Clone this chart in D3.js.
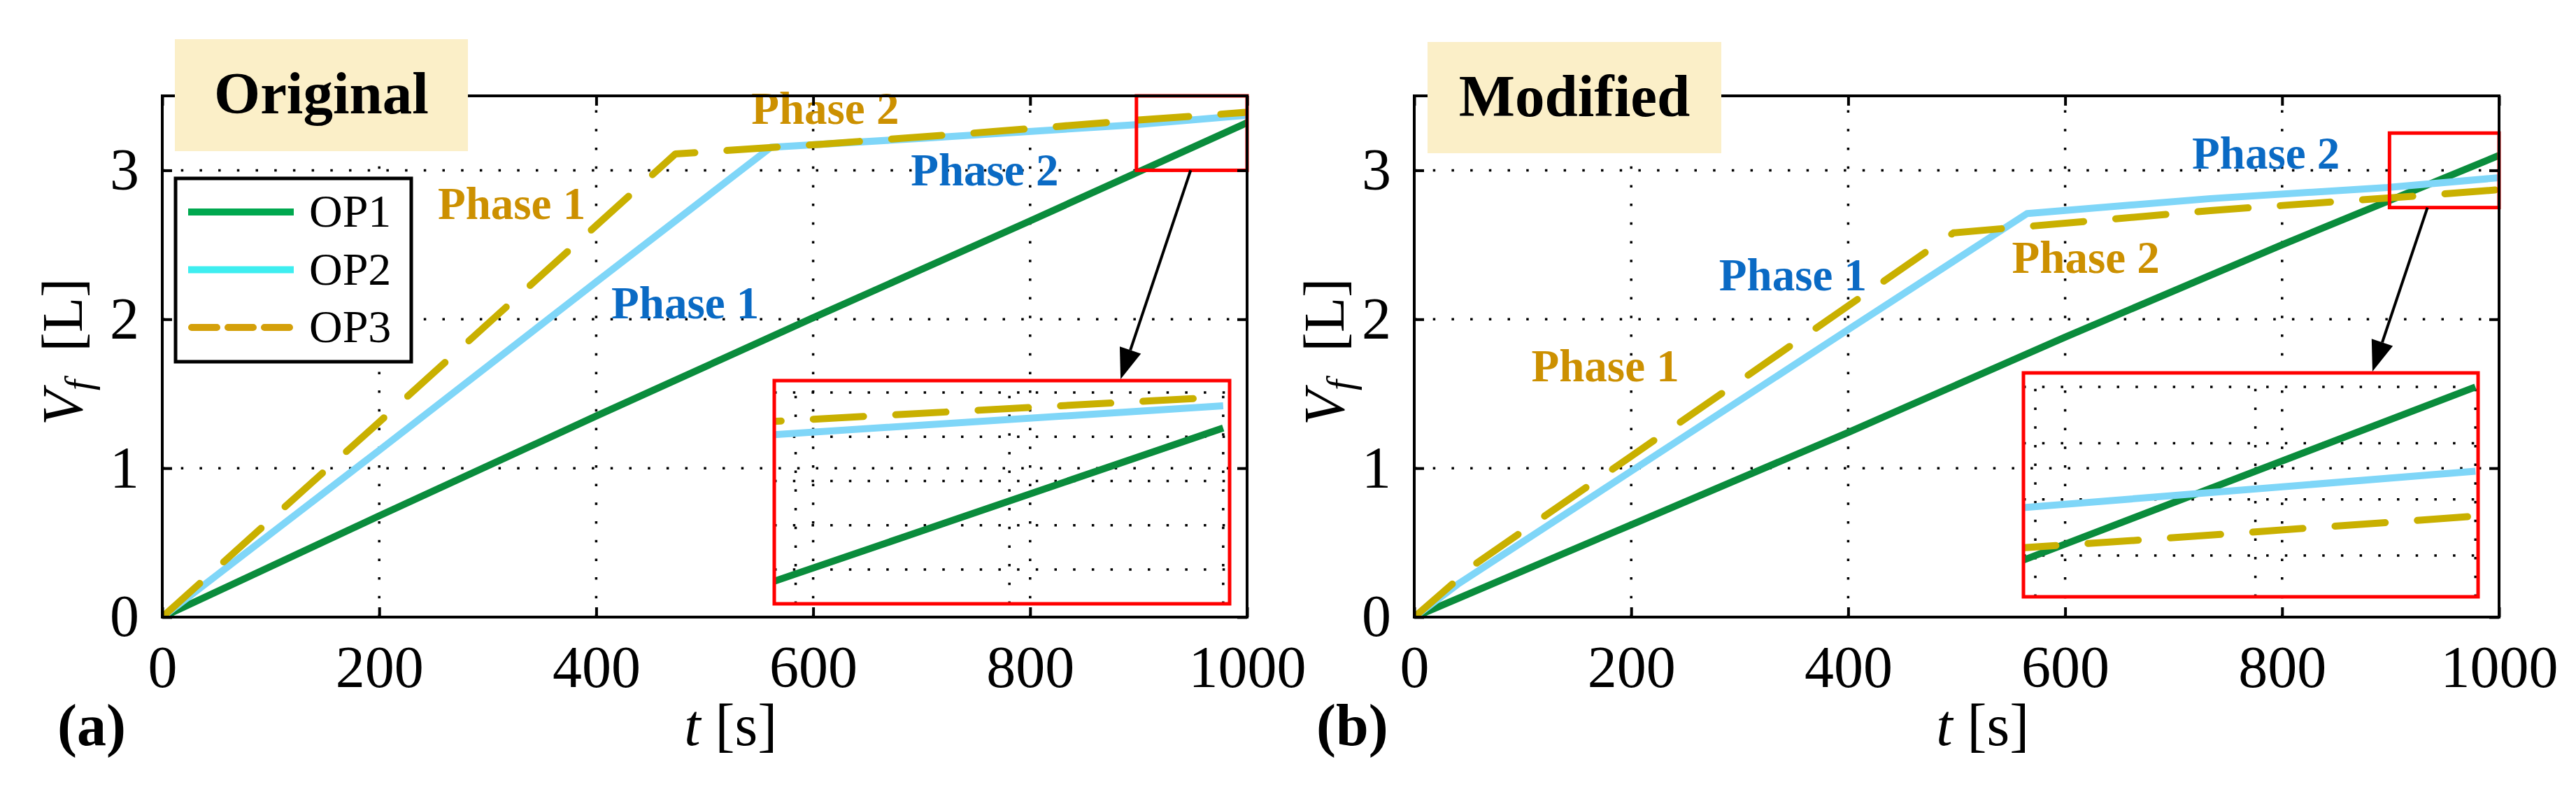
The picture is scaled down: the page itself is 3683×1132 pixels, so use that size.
<!DOCTYPE html>
<html><head><meta charset="utf-8">
<script src="https://cdn.jsdelivr.net/npm/d3@7"></script>
<style>html,body{margin:0;padding:0;background:#fff;} svg{display:block}</style>
</head><body>
<svg id="chart" width="3683" height="1132"></svg>
<script>
// ---------------- data ----------------
const xTicks = [0, 200, 400, 600, 800, 1000];
const yTicks = [0, 1, 2, 3];
const seriesNames = ["OP1", "OP2", "OP3"];

// (a) Original : [t (s), Vf (L)]
const origOP1 = [[0,0],[200,0.68],[400,1.35],[600,2.01],[800,2.66],[1000,3.32]];
const origOP2 = [[0,0],[200,1.12],[400,2.25],[561,3.155],[700,3.215],[895,3.305],[1000,3.37]];
const origOP3 = [[0,0],[200,1.31],[473,3.11],[607,3.175],[766,3.26],[895,3.335],[1000,3.39]];

// (b) Modified
const modOP1 = [[0,0],[200,0.62],[400,1.24],[600,1.88],[800,2.50],[1000,3.10]];
const modOP2 = [[0,0],[40,0.22],[200,0.98],[400,1.93],[565,2.71],[734,2.81],[897,2.885],[1000,2.95]];
const modOP3 = [[0,0],[57,0.36],[200,1.08],[497,2.58],[734,2.73],[921,2.826],[1000,2.87]];

// zoom windows (data coords) and inset grid ticks
const origZoomX = [898, 1000], origZoomY = [3.0, 3.5];
const modZoomX = [899, 1000],  modZoomY = [2.75, 3.25];
const insetXTicks = [900, 950, 1000];
const origInsetYTicks = [3.0, 3.1, 3.2, 3.3, 3.4];
const modInsetYTicks = [2.8, 2.9, 3.0, 3.1];

// phase labels: [text, t, Vf, colour-key]
const origPhaseLabels = [["Phase 2",543,3.312,"gold"],["Phase 2",690,2.90,"blue"],["Phase 1",254,2.673,"gold"],["Phase 1",414,2.006,"blue"]];
const modPhaseLabels  = [["Phase 2",717,3.011,"blue"],["Phase 2",551,2.311,"gold"],["Phase 1",281,2.194,"blue"],["Phase 1",108,1.583,"gold"]];

// ---------------- styling ----------------
const FONT = "'Liberation Serif','Times New Roman',serif";
const colors = {OP1:"#0a8c3c", OP2:"#7fd6f8", OP3:"#c9b000"};
const legendColors = {OP1:"#00a84f", OP2:"#3eeef0", OP3:"#d4a00a"};
const textColors = {gold:"#cc9000", blue:"#0a6ac4"};
const LW = 10;

const svg = d3.select("#chart");

const panels = [
  {id:"a", title:"Original", letter:"(a)", x0:232, x1:1783, data:[origOP1,origOP2,origOP3],
   zoomX:origZoomX, zoomY:origZoomY, labels:origPhaseLabels,
   titleBox:[250,56,669,216], ylabX:117, letterX:82,
   inset:{box:[1107,544,1758,863], xd:[895,1001.5], yd:[2.9225,3.427], yt:origInsetYTicks},
   arrowFrom:948, arrowTo:976, legend:true},
  {id:"b", title:"Modified", letter:"(b)", x0:2022, x1:3573, data:[modOP1,modOP2,modOP3],
   zoomX:modZoomX, zoomY:modZoomY, labels:modPhaseLabels,
   titleBox:[2041,60,2461,219], ylabX:1921, letterX:1882,
   inset:{box:[2893,533,3543,853], xd:[897.3,1000.6], yd:[2.7265,3.125], yt:modInsetYTicks},
   arrowFrom:934, arrowTo:976.6, legend:false}
];

const Y0 = 882, Y1 = 137;

function dotted(sel){
  return sel.attr("stroke","#000").attr("stroke-width",3.5).attr("stroke-dasharray","3.5,23.2").attr("fill","none");
}

function drawSeries(g, x, y, data){
  const line = d3.line().x(d=>x(d[0])).y(d=>y(d[1]));
  data.forEach((ser,i)=>{
    const name = seriesNames[i];
    const p = g.append("path").datum(ser).attr("d",line)
      .attr("fill","none").attr("stroke",colors[name]).attr("stroke-width",LW)
      .attr("stroke-linejoin","round");
    if(name==="OP3"){ p.attr("stroke-dasharray","72,46").attr("stroke-linecap","round"); }
    else p.attr("stroke-linecap","butt");
  });
}

panels.forEach(P=>{
  const g = svg.append("g");
  const x = d3.scaleLinear().domain([0,1000]).range([P.x0,P.x1]);
  const y = d3.scaleLinear().domain([0,3.5]).range([Y0,Y1]);

  svg.append("clipPath").attr("id","clip"+P.id).append("rect")
    .attr("x",P.x0).attr("y",Y1).attr("width",P.x1-P.x0).attr("height",Y0-Y1);

  // grid
  g.append("g").selectAll("line").data(xTicks.filter(t=>t>0&&t<1000)).join("line")
    .attr("x1",d=>x(d)).attr("x2",d=>x(d)).attr("y1",Y0).attr("y2",Y1).call(dotted);
  g.append("g").selectAll("line").data(yTicks.filter(t=>t>0)).join("line")
    .attr("y1",d=>y(d)).attr("y2",d=>y(d)).attr("x1",P.x0).attr("x2",P.x1).call(dotted);

  // series
  const sg = g.append("g").attr("clip-path","url(#clip"+P.id+")");
  drawSeries(sg, x, y, P.data);

  // zoom window
  g.append("rect").attr("x",x(P.zoomX[0])).attr("y",y(P.zoomY[1]))
    .attr("width",x(P.zoomX[1])-x(P.zoomX[0])).attr("height",y(P.zoomY[0])-y(P.zoomY[1]))
    .attr("fill","none").attr("stroke","#ff0000").attr("stroke-width",5);

  // inset
  const I = P.inset;
  const ix = d3.scaleLinear().domain(I.xd).range([I.box[0],I.box[2]]);
  const iy = d3.scaleLinear().domain(I.yd).range([I.box[3],I.box[1]]);
  svg.append("clipPath").attr("id","iclip"+P.id).append("rect")
    .attr("x",I.box[0]).attr("y",I.box[1]).attr("width",I.box[2]-I.box[0]).attr("height",I.box[3]-I.box[1]);
  const ig = g.append("g");
  ig.append("g").selectAll("line").data(insetXTicks).join("line")
    .attr("x1",d=>ix(d)).attr("x2",d=>ix(d)).attr("y1",I.box[3]).attr("y2",I.box[1]).call(dotted);
  ig.append("g").selectAll("line").data(I.yt).join("line")
    .attr("y1",d=>iy(d)).attr("y2",d=>iy(d)).attr("x1",I.box[0]).attr("x2",I.box[2]).call(dotted);
  const isg = ig.append("g").attr("clip-path","url(#iclip"+P.id+")");
  drawSeries(isg, ix, iy, P.data);
  ig.append("rect").attr("x",I.box[0]).attr("y",I.box[1]).attr("width",I.box[2]-I.box[0]).attr("height",I.box[3]-I.box[1])
    .attr("fill","none").attr("stroke","#ff0000").attr("stroke-width",5);

  // arrow from zoom window to inset
  const ax0 = x(P.arrowFrom), ay0 = y(P.zoomY[0]);
  const ax1 = ix(P.arrowTo), ay1 = I.box[1]-2;
  const dx = ax1-ax0, dy = ay1-ay0, L = Math.hypot(dx,dy), ux = dx/L, uy = dy/L;
  const hl = 44, hw = 16;
  const bx = ax1-ux*hl, by = ay1-uy*hl;
  g.append("line").attr("x1",ax0).attr("y1",ay0).attr("x2",bx).attr("y2",by)
    .attr("stroke","#000").attr("stroke-width",4);
  g.append("path").attr("d",`M${ax1},${ay1}L${bx-uy*hw},${by+ux*hw}L${bx+uy*hw},${by-ux*hw}Z`).attr("fill","#000");

  // phase labels
  g.append("g").selectAll("text").data(P.labels).join("text")
    .attr("x",d=>x(d[1])).attr("y",d=>y(d[2])).text(d=>d[0])
    .attr("fill",d=>textColors[d[3]]).attr("font-family",FONT).attr("font-weight","bold").attr("font-size",65);

  // axes frame
  g.append("rect").attr("x",P.x0).attr("y",Y1).attr("width",P.x1-P.x0).attr("height",Y0-Y1)
    .attr("fill","none").attr("stroke","#000").attr("stroke-width",4);
  const styleAxis = a => { a.select(".domain").remove(); a.selectAll(".tick line").attr("stroke","#000").attr("stroke-width",4);
    a.attr("font-family",FONT).attr("font-size",84); a.selectAll("text").attr("fill","#000"); };
  g.append("g").attr("transform",`translate(0,${Y0})`)
    .call(d3.axisBottom(x).tickValues(xTicks).tickSizeInner(-14).tickSizeOuter(0).tickPadding(40).tickFormat(d3.format("d"))).call(styleAxis);
  g.append("g").attr("transform",`translate(0,${Y1})`)
    .call(d3.axisTop(x).tickValues(xTicks).tickSizeInner(-14).tickSizeOuter(0).tickFormat("")).call(styleAxis);
  g.append("g").attr("transform",`translate(${P.x0},0)`)
    .call(d3.axisLeft(y).tickValues(yTicks).tickSizeInner(-14).tickSizeOuter(0).tickPadding(33).tickFormat(d3.format("d"))).call(styleAxis);
  g.append("g").attr("transform",`translate(${P.x1},0)`)
    .call(d3.axisRight(y).tickValues(yTicks).tickSizeInner(-14).tickSizeOuter(0).tickFormat("")).call(styleAxis);

  // axis labels
  const xl = g.append("text").attr("x",x(524)).attr("y",1065).attr("text-anchor","middle")
    .attr("font-family",FONT).attr("font-size",84);
  xl.append("tspan").attr("font-style","italic").text("t");
  xl.append("tspan").text(" [s]");
  const yl = g.append("text").attr("transform",`translate(${P.ylabX},608) rotate(-90)`)
    .attr("font-family",FONT).attr("font-size",82);
  yl.append("tspan").attr("font-style","italic").text("V");
  yl.append("tspan").attr("font-style","italic").attr("font-size",54).attr("dy",14).text("f");
  yl.append("tspan").attr("dy",-14).attr("dx",20).text(" [L]");

  g.append("text").attr("x",P.letterX).attr("y",1065).text(P.letter)
    .attr("font-family",FONT).attr("font-weight","bold").attr("font-size",84);

  // title box
  const tb = P.titleBox;
  g.append("rect").attr("x",tb[0]).attr("y",tb[1]).attr("width",tb[2]-tb[0]).attr("height",tb[3]-tb[1]).attr("fill","#fbefc8");
  g.append("text").attr("x",(tb[0]+tb[2])/2).attr("y",tb[1]+106).attr("text-anchor","middle").text(P.title)
    .attr("font-family",FONT).attr("font-weight","bold").attr("font-size",85).attr("fill","#000");

  // legend
  if(P.legend){
    const lg = g.append("g");
    lg.append("rect").attr("x",251).attr("y",255).attr("width",337).attr("height",262)
      .attr("fill","#fff").attr("stroke","#000").attr("stroke-width",5);
    seriesNames.forEach((n,i)=>{
      const yy = 303 + i*82.5;
      const l = lg.append("line").attr("x1",269).attr("x2",420).attr("y1",yy).attr("y2",yy)
        .attr("stroke",legendColors[n]).attr("stroke-width",LW);
      if(n==="OP3") l.attr("stroke-dasharray","36,16").attr("stroke-linecap","round").attr("x1",274).attr("x2",418);
      lg.append("text").attr("x",442).attr("y",yy+21).text(n)
        .attr("font-family",FONT).attr("font-size",66).attr("fill","#000");
    });
  }
});
</script>
</body></html>
